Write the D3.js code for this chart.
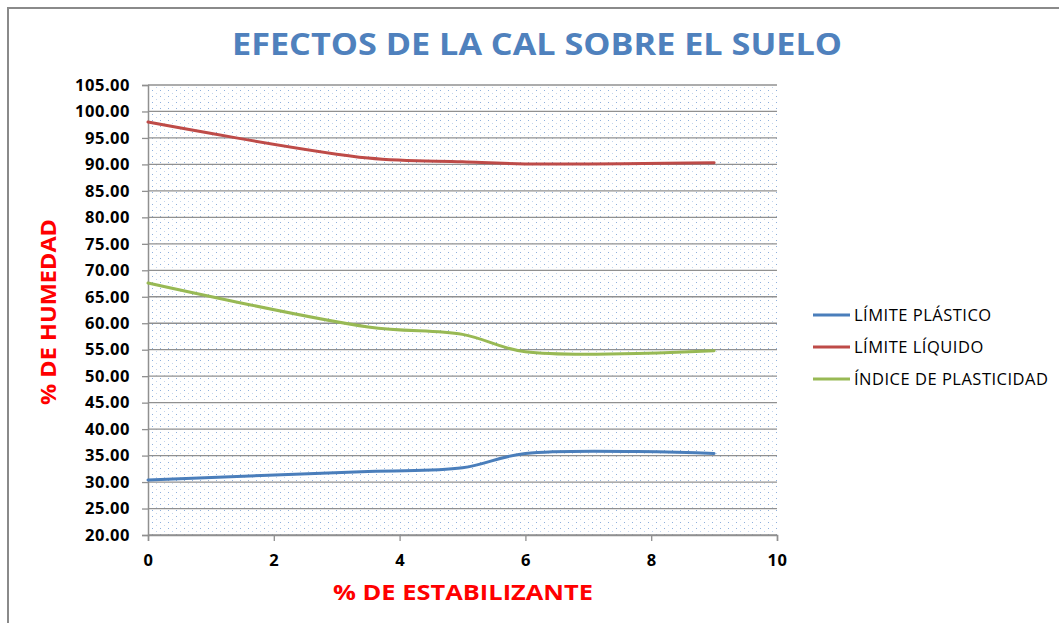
<!DOCTYPE html>
<html>
<head>
    <style>
        body { margin: 0; background: #fff; }
        svg text { font-family: "Open Sans", "Noto Sans", sans-serif; }
        .tick text { font-size: 16.5px; font-weight: bold; fill: #000; letter-spacing: 0.5px; }
        .legend text { font-size: 16.5px; fill: #000; letter-spacing: 0.5px; }
    </style>
    <script type="text/javascript" src="https://d3js.org/d3.v7.min.js"></script>
</head>
<body>
<svg width="1059" height="623"></svg>
<script>
    // % de estabilizante (cal)
    let estabilizante = [0, 3.5, 5, 6, 9];
    let limitePlastico = [30.4, 32.0, 32.7, 35.4, 35.4];
    let limiteLiquido = [98.0, 91.2, 90.5, 90.1, 90.3];
    let indicePlasticidad = [67.6, 59.3, 57.9, 54.6, 54.8];
    let seriesNames = ["LÍMITE PLÁSTICO", "LÍMITE LÍQUIDO", "ÍNDICE DE PLASTICIDAD"];
    let xTicks = [0, 2, 4, 6, 8, 10];
    let yTicks = d3.range(20, 105.01, 5);

    let colors = ["#4A7EBB", "#BE4B48", "#98B954"];
    let allSeries = [limitePlastico, limiteLiquido, indicePlasticidad];

    let svg = d3.select("svg");
    let plotLeft = 148, plotRight = 777, plotTop = 85, plotBottom = 535;

    let x = d3.scaleLinear().domain([0, 10]).range([plotLeft, plotRight]);
    let y = d3.scaleLinear().domain([20, 105]).range([plotBottom, plotTop]);

    // chart frame
    svg.append("path")
        .attr("d", "M8,623 L8,8 L1059,8")
        .attr("fill", "none")
        .attr("stroke", "#8a8a8a")
        .attr("stroke-width", 2);

    // dotted plot background
    let defs = svg.append("defs");
    let pat = defs.append("pattern")
        .attr("id", "dots")
        .attr("patternUnits", "userSpaceOnUse")
        .attr("width", 8).attr("height", 6);
    pat.append("rect").attr("x", 0).attr("y", 0).attr("width", 1).attr("height", 1).attr("fill", "#8fb0dc");
    pat.append("rect").attr("x", 4).attr("y", 3).attr("width", 1).attr("height", 1).attr("fill", "#c2d4ec");

    svg.append("rect")
        .attr("x", plotLeft).attr("y", plotTop)
        .attr("width", plotRight - plotLeft).attr("height", plotBottom - plotTop)
        .attr("fill", "url(#dots)");

    // gridlines
    svg.append("g")
        .selectAll("line")
        .data(yTicks)
        .enter()
        .append("line")
        .attr("x1", plotLeft).attr("x2", plotRight)
        .attr("y1", d => y(d)).attr("y2", d => y(d))
        .attr("stroke", "#909090")
        .attr("stroke-width", 1.3);

    // axes
    let yAxis = svg.append("g")
        .attr("transform", "translate(" + plotLeft + ",0)")
        .call(d3.axisLeft(y).tickValues(yTicks).tickFormat(d3.format(".2f")).tickSize(6).tickPadding(12));
    let xAxis = svg.append("g")
        .attr("transform", "translate(0," + plotBottom + ")")
        .call(d3.axisBottom(x).tickValues(xTicks).tickSize(6).tickPadding(13));
    [yAxis, xAxis].forEach(function(a) {
        a.select(".domain").attr("stroke", "#909090").attr("stroke-width", 1.5);
        a.selectAll(".tick line").attr("stroke", "#909090").attr("stroke-width", 1.3);
        a.attr("font-family", null).attr("font-size", null);
    });

    // series lines (smoothed)
    let line = d3.line()
        .x(function(d, i) { return x(estabilizante[i]); })
        .y(function(d) { return y(d); })
        .curve(d3.curveCatmullRom.alpha(0.5));

    allSeries.forEach(function(s, i) {
        svg.append("path")
            .datum(s)
            .attr("d", line)
            .attr("fill", "none")
            .attr("stroke", colors[i])
            .attr("stroke-width", 3)
            .attr("stroke-linecap", "round");
    });

    // titles
    svg.append("text")
        .attr("x", 537).attr("y", 55)
        .attr("text-anchor", "middle")
        .attr("font-size", 31).attr("font-weight", "bold")
        .attr("fill", "#4F81BD")
        .attr("textLength", 610).attr("lengthAdjust", "spacingAndGlyphs")
        .text("EFECTOS DE LA CAL SOBRE EL SUELO");

    svg.append("text")
        .attr("transform", "translate(56,312) rotate(-90)")
        .attr("text-anchor", "middle")
        .attr("font-size", 22).attr("font-weight", "bold")
        .attr("fill", "#FF0000")
        .attr("textLength", 186).attr("lengthAdjust", "spacingAndGlyphs")
        .text("% DE HUMEDAD");

    svg.append("text")
        .attr("x", 463).attr("y", 600)
        .attr("text-anchor", "middle")
        .attr("font-size", 22).attr("font-weight", "bold")
        .attr("fill", "#FF0000")
        .attr("textLength", 260).attr("lengthAdjust", "spacingAndGlyphs")
        .text("% DE ESTABILIZANTE");

    // legend
    let legend = svg.append("g").attr("class", "legend");
    let item = legend.selectAll("g")
        .data(seriesNames)
        .enter()
        .append("g")
        .attr("transform", function(d, i) { return "translate(813," + (315 + i * 32) + ")"; });
    item.append("line")
        .attr("x1", 0).attr("x2", 37)
        .attr("stroke", function(d, i) { return colors[i]; })
        .attr("stroke-width", 3);
    item.append("text")
        .attr("x", 41).attr("y", 6)
        .text(function(d) { return d; });
</script>
</body>
</html>
